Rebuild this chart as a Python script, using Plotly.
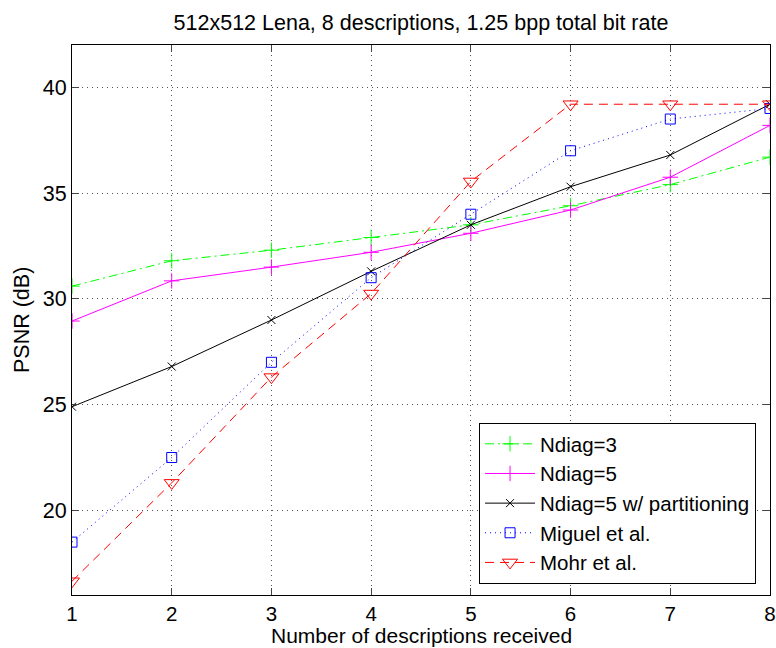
import plotly.graph_objects as go

x_desc = [1, 2, 3, 4, 5, 6, 7, 8]
ndiag3 = [30.6, 31.8, 32.3, 32.9, 33.5, 34.4, 35.4, 36.7]
ndiag5 = [28.95, 30.85, 31.5, 32.2, 33.1, 34.2, 35.75, 38.2]
ndiag5_part = [24.9, 26.8, 29.0, 31.3, 33.5, 35.3, 36.8, 39.2]
miguel = [18.5, 22.5, 27.0, 31.0, 34.0, 37.0, 38.5, 39.0]
mohr = [16.65, 21.3, 26.3, 30.25, 35.55, 39.2, 39.2, 39.2]
y_ticks = [20, 25, 30, 35, 40]

names = ["Ndiag=3", "Ndiag=5", "Ndiag=5 w/ partitioning", "Miguel et al.", "Mohr et al."]
series = [ndiag3, ndiag5, ndiag5_part, miguel, mohr]
colors = ["#00ff00", "#ff00ff", "#000000", "#0000ff", "#ff0000"]
dashes = ["9px,4px,2px,4px", "solid", "solid", "1px,4px", "9px,6px"]
symbols = ["cross-thin-open", "cross-thin-open", "x-thin-open", "square-open", "triangle-down-open"]
sizes = [11, 11, 8, 10, 13]

FONT = "Liberation Sans, Arial, Helvetica, sans-serif"
FS = 21.5

fig = go.Figure()
for n, s, c, d, sym, sz in zip(names, series, colors, dashes, symbols, sizes):
    fig.add_trace(go.Scatter(
        x=x_desc, y=s, name=n, mode="lines+markers",
        line=dict(color=c, width=1, dash=d),
        marker=dict(symbol=sym, size=sz, color=c, line=dict(color=c, width=1)),
    ))

axis_common = dict(
    showline=True, linecolor="black", linewidth=1, mirror="ticks",
    ticks="inside", ticklen=7, tickcolor="#444", tickwidth=1,
    showgrid=True, gridcolor="#555", gridwidth=1, griddash="1px,4px",
    zeroline=False, automargin=False, ticklabeloverflow="allow",
    tickfont=dict(size=FS, color="black", family=FONT),
)

fig.update_layout(
    width=776, height=648,
    margin=dict(l=72, r=6, t=45, b=53),
    paper_bgcolor="white", plot_bgcolor="white",
    font=dict(family=FONT, size=FS, color="black"),
    title=dict(text="512x512 Lena, 8 descriptions, 1.25 bpp total bit rate",
               x=421 / 776, xanchor="center", y=1 - 22 / 648, yanchor="middle",
               font=dict(size=FS, family=FONT, color="black")),
    xaxis=dict(range=[1, 8], tickvals=x_desc, **axis_common),
    yaxis=dict(range=[16, 42], tickvals=y_ticks, **axis_common),
    legend=dict(x=0.98, y=0.02, xanchor="right", yanchor="bottom",
                bgcolor="white", bordercolor="black", borderwidth=1,
                font=dict(size=20.5, family=FONT, color="black"),
                tracegroupgap=0, itemwidth=50),
    showlegend=True,
    annotations=[
        dict(text="Number of descriptions received", xref="paper", yref="paper",
             x=0.5, y=-53 / 550, xanchor="center", yanchor="bottom", borderpad=0,
             showarrow=False, font=dict(size=21, family=FONT, color="black")),
        dict(text="PSNR (dB)", xref="paper", yref="paper",
             x=-(72 - 22) / 698, y=0.5, xanchor="center", yanchor="middle",
             textangle=-90, showarrow=False, font=dict(size=FS, family=FONT, color="black")),
    ],
)
fig.update_xaxes(tickfont=dict(size=20.5), ticklabelstandoff=0)

fig.write_html("out.html")
